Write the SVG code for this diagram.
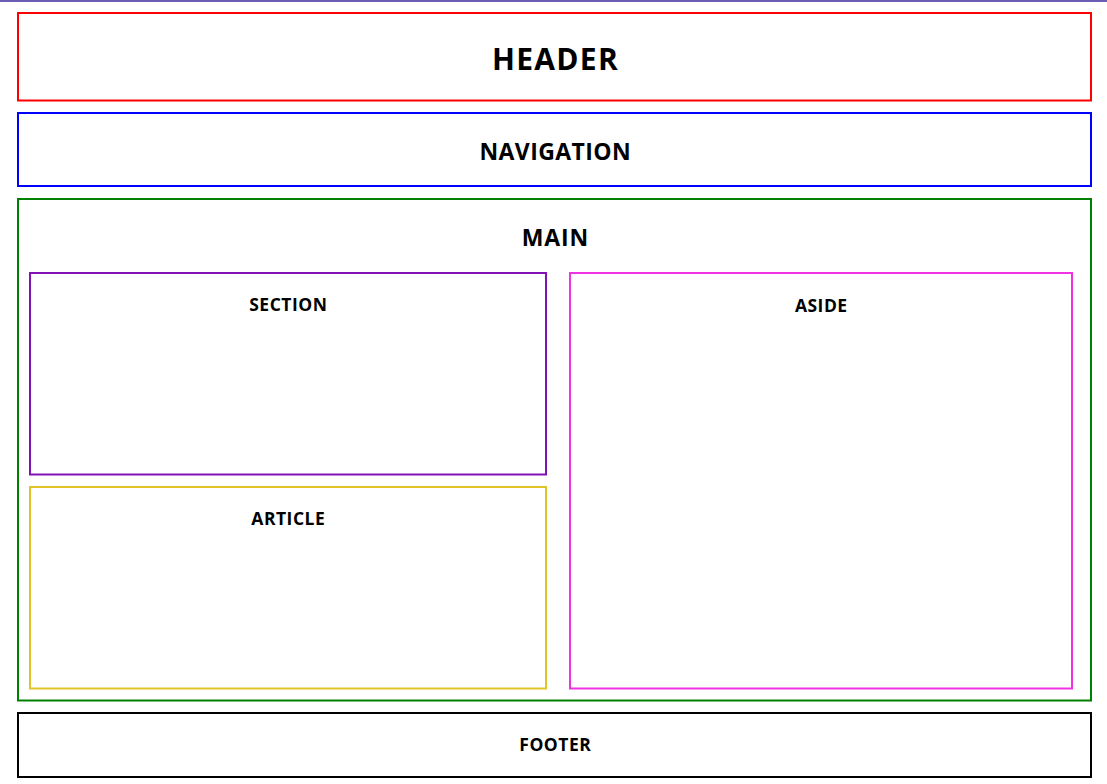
<svg xmlns="http://www.w3.org/2000/svg" width="1107" height="784" viewBox="0 0 1107 784">
<style>
.box{fill:none;stroke-width:2}
.t{font-family:"Open Sans","DejaVu Sans",sans-serif;font-weight:bold;fill:#000;text-anchor:middle}
.s{font-size:17.5px;letter-spacing:0.5px}
</style>
<rect width="1107" height="784" fill="#fff"/>
<rect x="0" y="0" width="1107" height="2" fill="#6c5cb4"/>
<g id="header"><rect class="box" x="18" y="13" width="1073" height="87.5" stroke="#ff0000"/><text class="t" x="555.5" y="69.5" font-size="30" letter-spacing="1.3">HEADER</text></g>
<g id="navigation"><rect class="box" x="18" y="113" width="1073" height="73" stroke="#0000ff"/><text class="t" x="555.3" y="160" font-size="23" letter-spacing="0.4">NAVIGATION</text></g>
<g id="main"><rect class="box" x="18" y="199" width="1073" height="501.5" stroke="#008000"/><text class="t" x="555.4" y="246" font-size="23" letter-spacing="0.8">MAIN</text></g>
<g id="section"><rect class="box" x="30" y="273" width="516" height="201.5" stroke="#8212b5"/><text class="t s" x="288.3" y="311">SECTION</text></g>
<g id="article"><rect class="box" x="30" y="487" width="516" height="201.5" stroke="#e0c427"/><text class="t s" x="288.3" y="525">ARTICLE</text></g>
<g id="aside"><rect class="box" x="570" y="273" width="502" height="415.5" stroke="#f032e0"/><text class="t s" x="821.3" y="312">ASIDE</text></g>
<g id="footer"><rect class="box" x="18" y="713" width="1073" height="64" stroke="#000"/><text class="t s" x="555.3" y="751">FOOTER</text></g>
<g id="connectors"></g>
</svg>
